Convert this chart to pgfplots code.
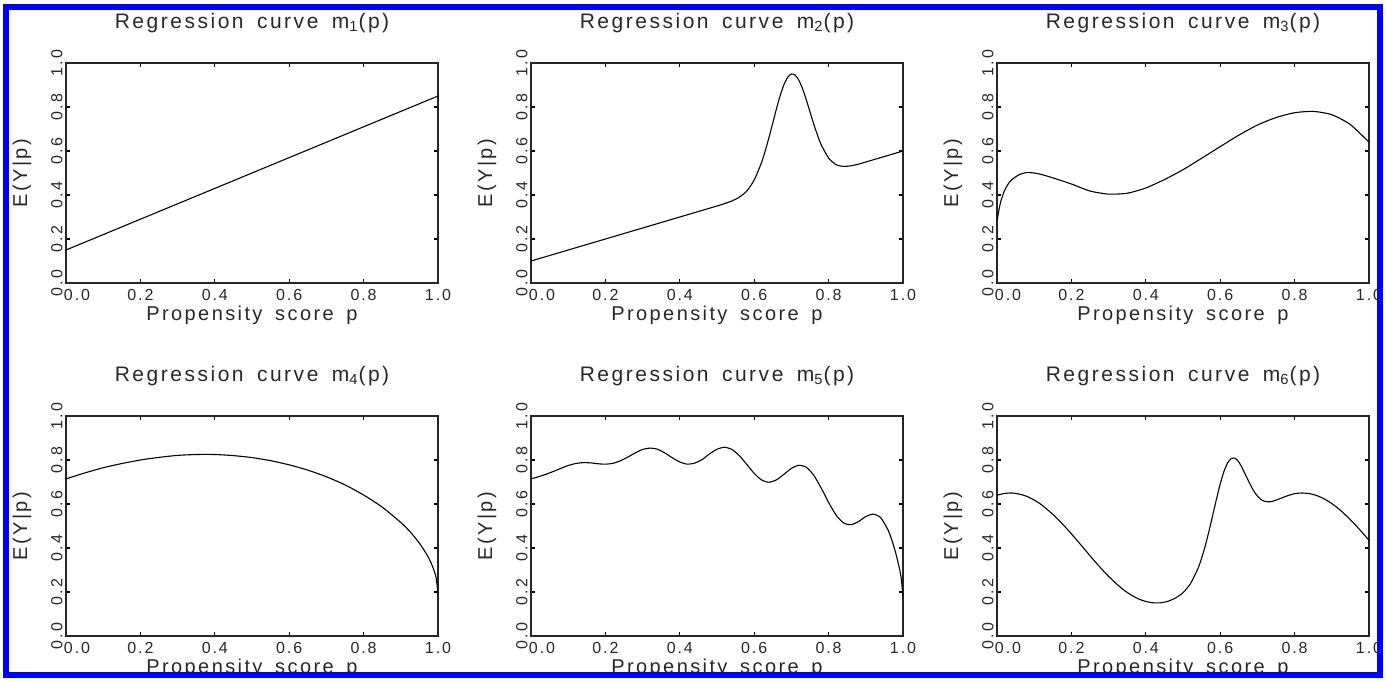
\documentclass[border=0pt]{standalone}
\usepackage{pgfplots}
\pgfplotsset{compat=1.18}
\usepackage{fontspec}
\setmainfont{Liberation Sans}[LetterSpace=12, WordSpace=1.6]

\definecolor{frameblue}{RGB}{0,0,255}
\definecolor{ink}{RGB}{40,40,40}

\pgfplotsset{
  panel/.style={
    scale only axis,
    width=186pt, height=110pt,
    anchor=south west,
    xmin=0, xmax=1, ymin=0, ymax=1,
    xtick={0,0.2,0.4,0.6,0.8,1.0},
    ytick={0,0.2,0.4,0.6,0.8,1.0},
    xticklabels={{\hspace*{11pt}0.0},0.2,0.4,0.6,0.8,1.0},
    yticklabels={0.0,0.2,0.4,0.6,0.8,1.0},
    tick align=inside,
    major tick length=2.2pt,
    every tick/.style={black, line width=0.6pt},
    axis line style={line width=1pt, black!85},
    xticklabel style={anchor=center, yshift=-6pt, font=\fontsize{8}{9}\selectfont, text=ink},
    yticklabel style={rotate=90, anchor=south, inner sep=1.5pt, font=\fontsize{8}{9}\selectfont, text=ink},
    xlabel={Propensity score p},
    ylabel={E(Y|p)},
    xlabel style={at={(axis description cs:0.5,0)}, anchor=center, yshift=-16pt, font=\fontsize{10}{12}\selectfont, text=ink},
    ylabel style={at={(axis description cs:-0.118,0.5)}, anchor=center, font=\fontsize{10}{12}\selectfont, text=ink},
    title style={at={(axis description cs:0.5,1)}, anchor=center, yshift=14pt, font=\fontsize{10.5}{12}\selectfont, text=ink},
  },
  curve/.style={black, line width=0.55pt, smooth, tension=0.4, no markers},
}

\begin{document}
\begin{tikzpicture}
\fill[white] (0,0) rectangle (693.5pt,-340.5pt);
\clip (0,0) rectangle (693.5pt,-340.5pt);

% row 1
\begin{axis}[panel, at={(33pt,-141.5pt)}, title={Regression curve m\textsubscript{1}(p)}]
\addplot[curve] coordinates {(0,0.15) (1,0.85)};
\end{axis}

\begin{axis}[panel, at={(265.5pt,-141.5pt)}, title={Regression curve m\textsubscript{2}(p)}]
\addplot[curve] coordinates {
(0,0.100) (0.1,0.150) (0.2,0.200) (0.3,0.250) (0.4,0.300) (0.5,0.350)
(0.52,0.361) (0.54,0.373) (0.56,0.390) (0.58,0.418) (0.60,0.468)
(0.62,0.549) (0.63,0.603) (0.64,0.663) (0.65,0.728) (0.66,0.793)
(0.67,0.853) (0.68,0.902) (0.69,0.935) (0.70,0.950) (0.71,0.945)
(0.72,0.922) (0.73,0.883) (0.74,0.833) (0.75,0.778) (0.76,0.723)
(0.77,0.673) (0.78,0.629) (0.80,0.568) (0.82,0.538) (0.84,0.530)
(0.86,0.533) (0.88,0.540) (0.90,0.550) (0.95,0.575) (1.00,0.600)
};
\end{axis}

\begin{axis}[panel, at={(498.5pt,-141.5pt)}, title={Regression curve m\textsubscript{3}(p)}]
\addplot[curve] coordinates {
(0,0.280) (0.005,0.330) (0.01,0.370) (0.02,0.420) (0.03,0.450)
(0.04,0.470) (0.06,0.493) (0.08,0.502) (0.10,0.500) (0.12,0.493)
(0.15,0.478) (0.20,0.450) (0.25,0.418) (0.30,0.404) (0.35,0.408)
(0.40,0.432) (0.45,0.470) (0.50,0.515) (0.55,0.567) (0.60,0.620)
(0.65,0.672) (0.70,0.718) (0.75,0.752) (0.80,0.774) (0.85,0.780)
(0.90,0.765) (0.95,0.720) (1.00,0.640)
};
\end{axis}

% row 2
\begin{axis}[panel, at={(33pt,-318pt)}, title={Regression curve m\textsubscript{4}(p)}]
\addplot[curve] coordinates {
(0,0.714) (0.05,0.741) (0.10,0.765) (0.15,0.784) (0.20,0.800)
(0.25,0.812) (0.30,0.821) (0.35,0.825) (0.40,0.825) (0.45,0.820)
(0.50,0.811) (0.55,0.797) (0.60,0.778) (0.65,0.754) (0.70,0.724)
(0.75,0.687) (0.80,0.641) (0.85,0.586) (0.90,0.516) (0.925,0.474)
(0.95,0.422) (0.97,0.370) (0.98,0.338) (0.99,0.295) (0.995,0.265)
(1.00,0.194)
};
\end{axis}

\begin{axis}[panel, at={(265.5pt,-318pt)}, title={Regression curve m\textsubscript{5}(p)}]
\addplot[curve] coordinates {
(0,0.714) (0.02,0.724) (0.04,0.735) (0.06,0.748) (0.08,0.762)
(0.10,0.775) (0.12,0.784) (0.14,0.788) (0.16,0.787) (0.18,0.783)
(0.20,0.781) (0.22,0.785) (0.24,0.796) (0.26,0.813) (0.28,0.832)
(0.30,0.848) (0.32,0.854) (0.34,0.849) (0.36,0.832) (0.38,0.810)
(0.40,0.791) (0.42,0.781) (0.44,0.786) (0.46,0.802) (0.48,0.828)
(0.50,0.849) (0.52,0.858) (0.54,0.848) (0.56,0.820) (0.58,0.780)
(0.60,0.739) (0.62,0.709) (0.64,0.699) (0.66,0.710) (0.68,0.735)
(0.70,0.762) (0.72,0.776) (0.74,0.767) (0.76,0.731) (0.78,0.673)
(0.80,0.607) (0.82,0.550) (0.84,0.514) (0.86,0.506) (0.88,0.520)
(0.90,0.543) (0.92,0.554) (0.94,0.538) (0.96,0.481) (0.97,0.436)
(0.98,0.380) (0.99,0.310) (0.995,0.265) (1.00,0.179)
};
\end{axis}

\begin{axis}[panel, at={(498.5pt,-318pt)}, title={Regression curve m\textsubscript{6}(p)}]
\addplot[curve] coordinates {
(0,0.640) (0.02,0.648) (0.04,0.650) (0.06,0.645) (0.08,0.635)
(0.10,0.618) (0.12,0.596) (0.14,0.568) (0.16,0.537) (0.18,0.502)
(0.20,0.464) (0.22,0.425) (0.24,0.385) (0.26,0.345) (0.28,0.307)
(0.30,0.271) (0.32,0.239) (0.34,0.210) (0.36,0.187) (0.38,0.169)
(0.40,0.157) (0.42,0.151) (0.44,0.151) (0.46,0.158) (0.48,0.173)
(0.50,0.197) (0.52,0.238) (0.54,0.306) (0.55,0.354) (0.56,0.411)
(0.57,0.478) (0.58,0.550) (0.59,0.623) (0.60,0.691) (0.61,0.748)
(0.62,0.787) (0.63,0.807) (0.64,0.808) (0.65,0.791) (0.66,0.761)
(0.67,0.726) (0.68,0.691) (0.69,0.660) (0.70,0.636) (0.71,0.620)
(0.72,0.612) (0.73,0.610) (0.74,0.612) (0.76,0.624) (0.78,0.637)
(0.80,0.647) (0.82,0.650) (0.84,0.647) (0.86,0.638) (0.88,0.623)
(0.90,0.602) (0.92,0.576) (0.94,0.545) (0.96,0.511) (0.98,0.474)
(1.00,0.435)
};
\end{axis}

\draw[frameblue, line width=3pt] (3pt,-3.5pt) rectangle (690pt,-337.25pt);
\end{tikzpicture}
\end{document}
